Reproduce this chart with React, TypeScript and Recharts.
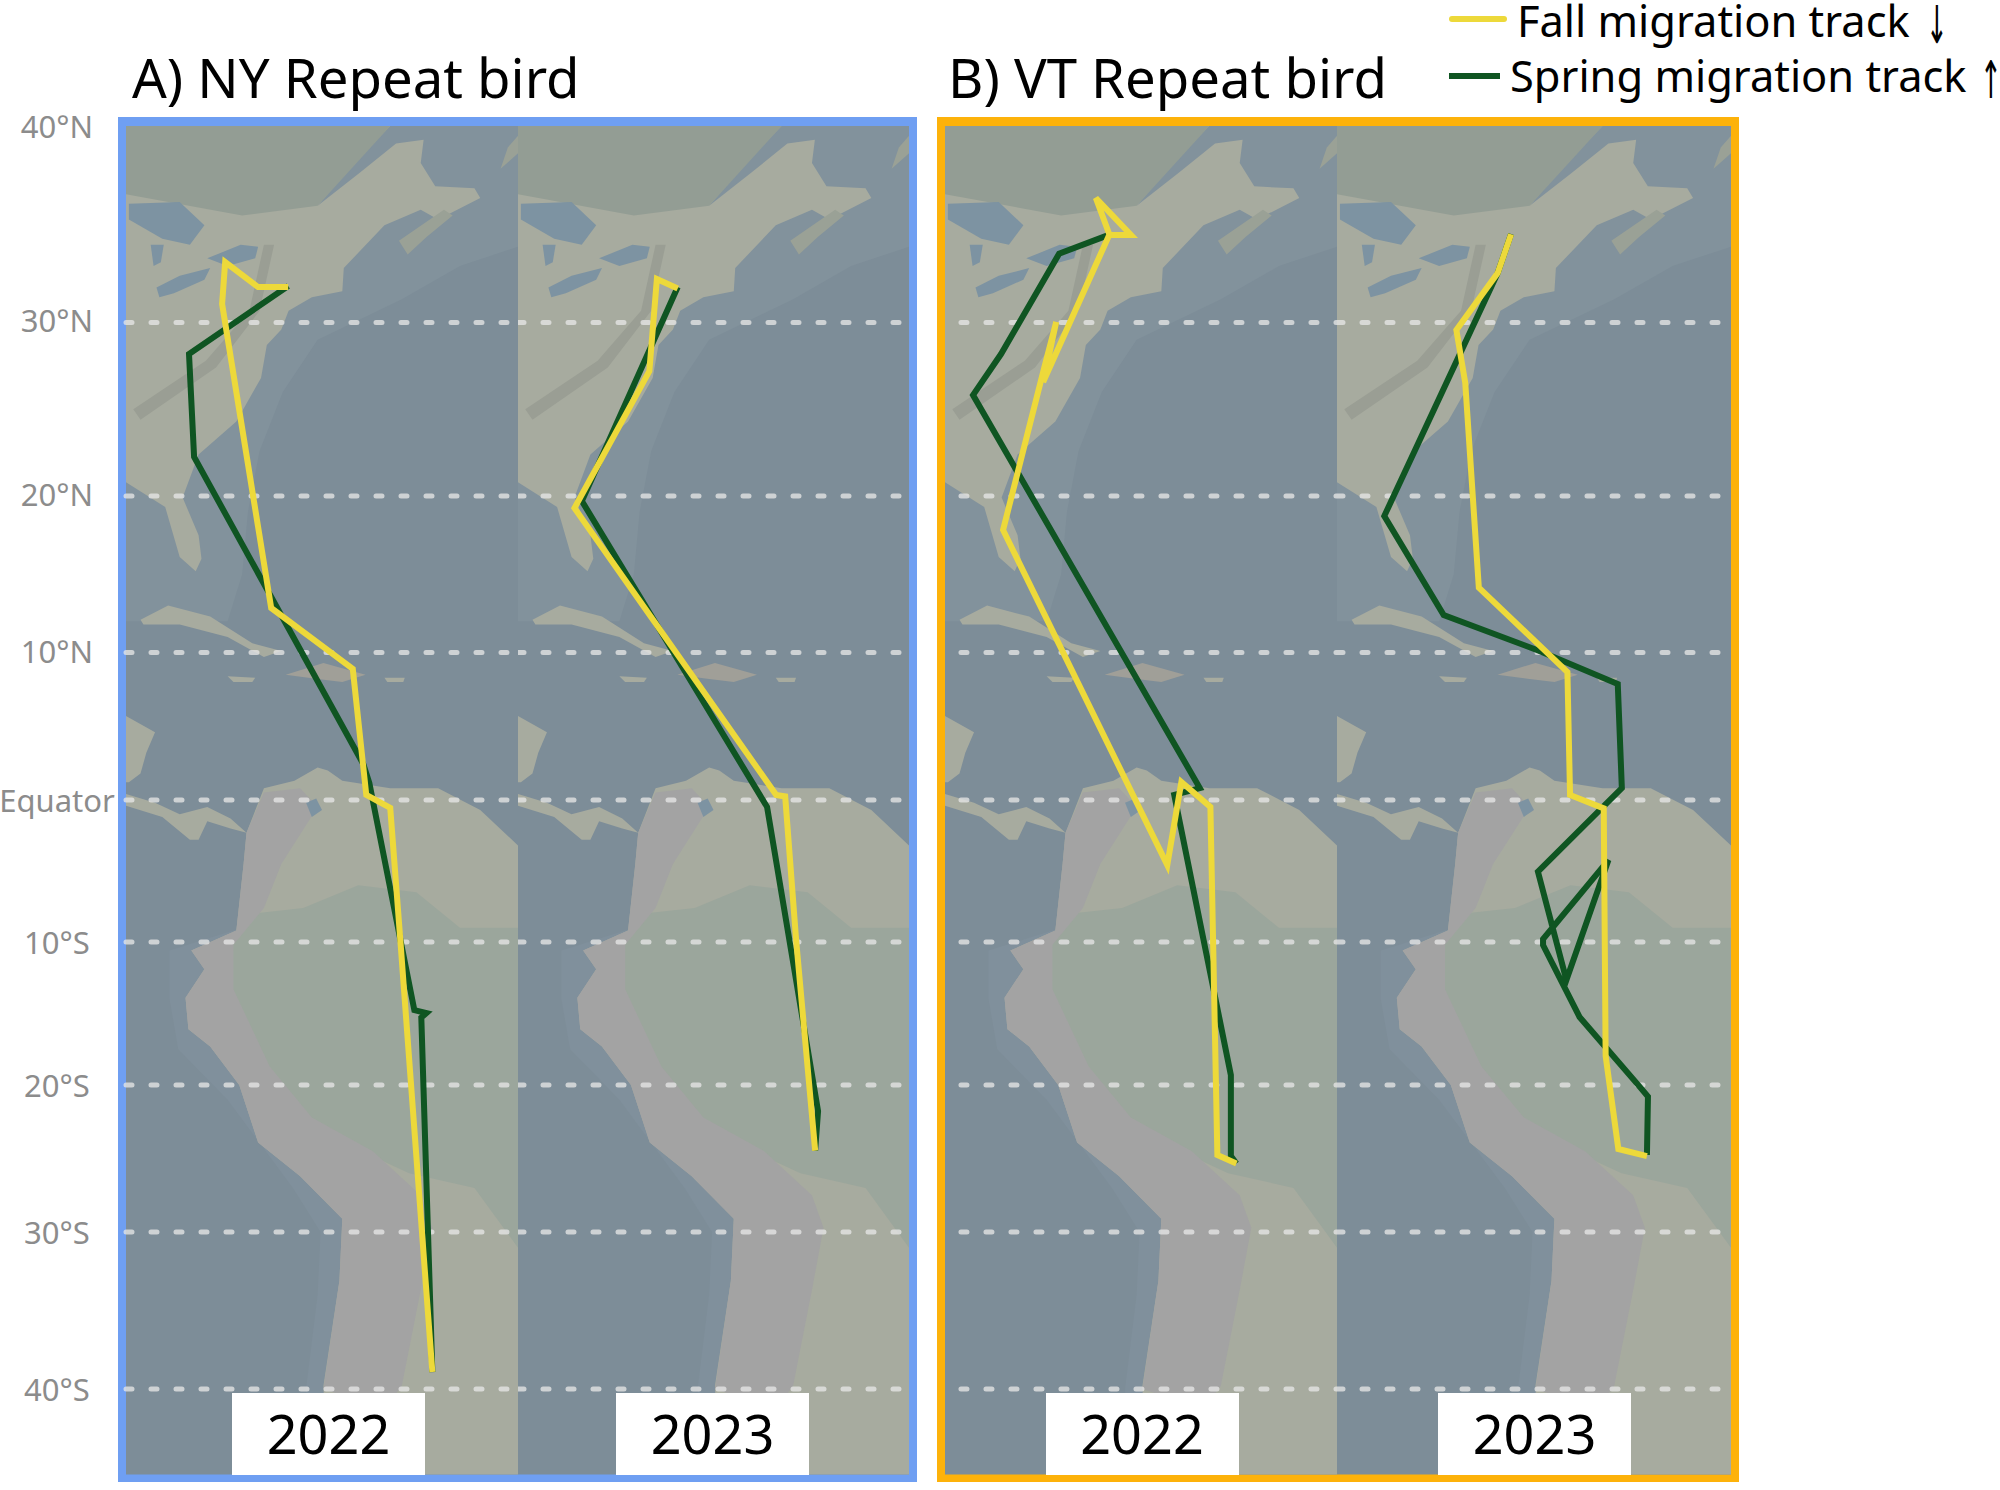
import React from 'react';
import { ScatterChart, Scatter, XAxis, YAxis } from 'recharts';

type Pair = [number, number];

const FONT = '"Noto Sans", sans-serif';

// tick labels, all in degrees latitude
const latTicks = [40, 30, 20, 10, 0, -10, -20, -30, -40];
const latLabels = ['40°N', '30°N', '20°N', '10°N', 'Equator', '10°S', '20°S', '30°S', '40°S'];
const gridLats = [30, 20, 10, 0, -10, -20, -30, -40];

// the map projection is not linear in latitude, this is the share of map height at each latitude
const projLat = [-45.4, -40, -30, -20, -10, 0, 10, 20, 30, 40, 40.1];
const projShare = [0, 0.0634, 0.1798, 0.2888, 0.3949, 0.5002, 0.6095, 0.7256, 0.8543, 0.9985, 1];

const lonRange: Pair = [-86, -59];
const latRange: Pair = [-45.4, 40.1];

// tracks as [lon, lat]
const nyFall2022: Pair[] = [[-74.83, 31.82], [-76.9, 31.82], [-79.17, 33.11], [-79.38, 30.95], [-76.0, 12.85], [-70.38, 8.89], [-69.45, 0.34], [-67.8, -0.56], [-67.1, -9.93], [-64.9, -38.92]];
const nySpring2022: Pair[] = [[-64.9, -38.92], [-65.66, -15.28], [-65.31, -14.97], [-66.14, -14.76], [-69.24, 1.15], [-69.66, 2.44], [-81.31, 22.25], [-81.66, 28.18], [-74.83, 31.88]];
const nyFall2023: Pair[] = [[-74.97, 31.75], [-76.41, 32.24], [-76.93, 27.2], [-82.1, 19.23], [-68.17, 0.34], [-67.55, 0.24], [-66.79, -9.93], [-65.48, -24.46]];
const nySpring2023: Pair[] = [[-65.48, -24.46], [-65.28, -21.77], [-68.8, -0.49], [-81.59, 19.68], [-74.97, 31.82]];
const vtFall2022: Pair[] = [[-74.69, 34.55], [-75.61, 36.4], [-73.19, 34.5], [-74.69, 34.5], [-79.24, 26.57], [-78.34, 30.03], [-79.17, 27.38], [-82.0, 17.83], [-70.69, -4.58], [-69.72, 1.22], [-67.72, -0.49], [-67.24, -24.76], [-65.93, -25.34]];
const vtSpring2022: Pair[] = [[-65.93, -25.34], [-66.31, -24.83], [-66.31, -19.3], [-70.21, 0.34], [-68.45, 0.81], [-84.07, 25.82], [-82.14, 28.18], [-78.14, 33.54], [-74.62, 34.53]];
const vtFall2023: Pair[] = [[-74.07, 34.54], [-74.99, 32.54], [-77.82, 29.57], [-77.21, 26.51], [-76.28, 14.15], [-70.21, 8.68], [-70.03, 0.34], [-67.72, -0.59], [-67.59, -17.97], [-66.72, -24.35], [-64.76, -24.83]];
const vtSpring2023: Pair[] = [[-64.76, -24.76], [-64.69, -20.78], [-65.38, -19.97], [-69.38, -15.24], [-71.88, -10.21], [-71.88, -9.79], [-67.4, -4.23], [-70.28, -12.66], [-72.23, -5.05], [-66.48, 0.81], [-66.76, 7.87], [-72.17, 10.12], [-78.69, 12.4], [-82.76, 18.72], [-74.99, 32.54], [-74.07, 34.55]];

// base map shapes
const oceanArea: Pair[] = [[-86, 40.1], [-59, 40.1], [-59, -45.4], [-86, -45.4]];
const atlanticShelf: Pair[] = [[-59, 40.1], [-59, 33.9], [-63, 32.9], [-67, 31.2], [-72.8, 29], [-75.2, 26], [-76.8, 22.6], [-77.6, 19], [-78, 15], [-79, 12], [-86, 12], [-86, 40.1]];
const pacificShelf: Pair[] = [[-78, -9], [-83, -10.6], [-83, -14], [-82.4, -17.5], [-79, -21], [-74.5, -27], [-72.6, -30], [-72.8, -34], [-73.6, -40], [-73.4, -45.4], [-70, -45.4], [-70, -9]];
const northAmerica: Pair[] = [[-86, 40.1], [-67.8, 40.1], [-70.3, 38.2], [-72.8, 36], [-69.9, 37.7], [-67.4, 39.2], [-65.5, 39.4], [-65.7, 38.2], [-64.7, 37], [-62, 36.9], [-61.6, 36.4], [-64.5, 35.3], [-65.7, 35.8], [-68.2, 35], [-71, 32.8], [-71.1, 31.6], [-73.2, 31.3], [-74.8, 30.6], [-75.3, 29.6], [-76.3, 28.7], [-76.7, 26.8], [-78.4, 24.3], [-81, 22.4], [-82.1, 19.9], [-81, 17.5], [-80.8, 16], [-81.2, 15.2], [-82.3, 16.1], [-83.3, 19.3], [-86, 20.8]];
const canadaForest: Pair[] = [[-86, 40.1], [-67.8, 40.1], [-72.8, 36], [-78, 35.5], [-86, 36.6]];
const appalachians: Pair[] = [[-85.5, 25], [-80.5, 27.8], [-77.5, 30.6], [-76.5, 34], [-75.8, 34], [-76.8, 30.6], [-79.8, 27.4], [-85, 24.4]];
const novaScotia: Pair[] = [[-67.2, 34.2], [-64.1, 35.8], [-63.5, 35.5], [-65.3, 34.4], [-66.6, 33.5]];
const newfoundland: Pair[] = [[-59, 38.7], [-60.2, 37.9], [-59.7, 39], [-59, 39.6]];
const lakeHuron: Pair[] = [[-85.8, 36.1], [-82.3, 36.2], [-80.6, 35], [-81.6, 34], [-83.5, 34.3], [-85.8, 35.3]];
const lakeMichigan: Pair[] = [[-84.3, 34], [-83.4, 34], [-83.6, 33.1], [-84.1, 32.9]];
const lakeOntario: Pair[] = [[-80.4, 33.3], [-78.1, 34], [-76.9, 33.9], [-77.1, 33.3], [-79, 32.9]];
const lakeErie: Pair[] = [[-83.9, 31.8], [-82.3, 32.4], [-80.2, 32.8], [-80.6, 32.2], [-82.7, 31.5], [-83.7, 31.3]];
const cuba: Pair[] = [[-85, 12.1], [-83.1, 13], [-80.2, 12.3], [-77.3, 10.6], [-75.3, 10.1], [-76.5, 9.7], [-79, 11], [-82.3, 11.8], [-84.8, 11.8]];
const hispaniola: Pair[] = [[-75, 8.5], [-72.4, 9.3], [-69.5, 8.5], [-71.1, 8], [-72.8, 8.2]];
const jamaica: Pair[] = [[-79, 8.4], [-77.1, 8.3], [-77.3, 8], [-78.6, 8]];
const puertoRico: Pair[] = [[-68.2, 8.3], [-66.8, 8.3], [-66.9, 8], [-68, 8]];
const yucatan: Pair[] = [[-86, 5.7], [-84, 4.6], [-84.6, 3.2], [-85, 1.8], [-85.8, 1.2], [-86, 1.2]];
const centralAmerica: Pair[] = [[-86, 0.4], [-84, -0.2], [-82.3, -1], [-80.4, -0.5], [-78.8, -1.3], [-77.7, -2.3], [-78.8, -2], [-80.4, -1.5], [-81, -2.8], [-81.6, -2.8], [-83.5, -1.2], [-86, -0.4]];
const southAmerica: Pair[] = [[-77.7, -2.3], [-76.5, 0.8], [-74.4, 1.3], [-72.8, 2.2], [-72.1, 2], [-71.1, 1.3], [-67.8, 0.8], [-64.5, 0.8], [-61.6, -0.7], [-59, -3.2], [-59, -45.4], [-72.2, -45.4], [-72.4, -39.8], [-71.3, -33.1], [-71.1, -29.1], [-74, -26.2], [-76.9, -23.9], [-78.2, -20], [-80.2, -17.3], [-81.7, -16.1], [-81.9, -13.9], [-80.6, -11.9], [-81.5, -10.6], [-78.4, -9.2], [-77.9, -4.5]];
const amazon: Pair[] = [[-73.8, -7.6], [-70, -6], [-66, -6.5], [-63, -9], [-59, -9], [-59, -31], [-62, -27], [-66.5, -26], [-70, -24.4], [-74.2, -21.8], [-77, -18.3], [-79.4, -13], [-79.4, -10.3], [-77.3, -8]];
const andes: Pair[] = [[-77.9, -4.5], [-77.7, -2.3], [-76.5, 0.5], [-74, 0.8], [-72.8, -0.5], [-75.3, -4.5], [-76.5, -7.6], [-78.6, -10.2], [-78.6, -13.3], [-76.1, -18.7], [-73.2, -22.2], [-69, -24.5], [-65.7, -27.5], [-64.9, -29.7], [-65.7, -33.7], [-67, -39.8], [-68.2, -41.3], [-72.4, -40], [-71.3, -33.1], [-71.1, -29.1], [-74, -26.2], [-76.9, -23.9], [-78.2, -20], [-80.2, -17.3], [-81.7, -16.1], [-81.9, -13.9], [-80.6, -11.9], [-81.5, -10.6], [-78.4, -9.2]];
const maracaibo: Pair[] = [[-73.6, -0.2], [-72.9, 0.1], [-72.5, -0.7], [-73.2, -1.2]];

const OCEAN = '#7d8d98';
const SHELF = '#82929c';
const LAND = '#a7ab9f';
const WATER = '#7d93a2';
const SPRING = '#0f5522';
const FALL = '#edd93a';

const mapLayers: { name: string; shape: Pair[]; fill: string }[] = [
  { name: 'ocean', shape: oceanArea, fill: OCEAN },
  { name: 'atlanticShelf', shape: atlanticShelf, fill: SHELF },
  { name: 'pacificShelf', shape: pacificShelf, fill: '#80909c' },
  { name: 'northAmerica', shape: northAmerica, fill: LAND },
  { name: 'canadaForest', shape: canadaForest, fill: '#939d94' },
  { name: 'appalachians', shape: appalachians, fill: '#9a9e94' },
  { name: 'novaScotia', shape: novaScotia, fill: '#9aa196' },
  { name: 'newfoundland', shape: newfoundland, fill: '#9aa196' },
  { name: 'lakeHuron', shape: lakeHuron, fill: WATER },
  { name: 'lakeMichigan', shape: lakeMichigan, fill: WATER },
  { name: 'lakeOntario', shape: lakeOntario, fill: WATER },
  { name: 'lakeErie', shape: lakeErie, fill: WATER },
  { name: 'cuba', shape: cuba, fill: LAND },
  { name: 'hispaniola', shape: hispaniola, fill: '#a09f98' },
  { name: 'jamaica', shape: jamaica, fill: LAND },
  { name: 'puertoRico', shape: puertoRico, fill: LAND },
  { name: 'yucatan', shape: yucatan, fill: LAND },
  { name: 'centralAmerica', shape: centralAmerica, fill: LAND },
  { name: 'southAmerica', shape: southAmerica, fill: LAND },
  { name: 'amazon', shape: amazon, fill: '#9ba69c' },
  { name: 'andes', shape: andes, fill: '#a3a3a3' },
  { name: 'maracaibo', shape: maracaibo, fill: WATER },
];

const toPoints = (pairs: Pair[]) => pairs.map(([lon, lat]) => ({ lon, lat }));

// custom latitude scale, same interface as a d3 scale
function latScale() {
  let dom = [latRange[0], latRange[1]];
  let rng = [1, 0];
  const s: any = (v: number) => {
    let i = 0;
    while (i < projLat.length - 2 && v > projLat[i + 1]) i++;
    const t = (v - projLat[i]) / (projLat[i + 1] - projLat[i]);
    const share = projShare[i] + t * (projShare[i + 1] - projShare[i]);
    return rng[0] + (rng[1] - rng[0]) * share;
  };
  s.domain = (d?: number[]) => {
    if (d) { dom = d; return s; }
    return dom;
  };
  s.range = (r?: number[]) => {
    if (r) { rng = r; return s; }
    return rng;
  };
  s.ticks = () => latTicks;
  s.copy = () => latScale().domain(dom).range(rng);
  return s;
}

const NoDot = () => <g />;

const LatTick = ({ y, payload }: any) => {
  const label = latLabels[latTicks.indexOf(payload.value)];
  return (
    <text x={57} y={payload.value > 0 ? y - 2 : y} textAnchor="middle" dominantBaseline="central" fontFamily={FONT} fontSize={31} fill="#8c8c8c">
      {label}
    </text>
  );
};

const TOP_PAD = 30;
const MAP_TOP = 126;
const MAP_H = 1348.5;

type PanelProps = {
  left: number;
  mapWidth: number;
  fall: Pair[];
  spring: Pair[];
  year: string;
  boxLeft: number;
  gridFrom: number;
  gridTo: number;
  axis?: boolean;
};

const TrackPanel = ({ left, mapWidth, fall, spring, year, boxLeft, gridFrom, gridTo, axis }: PanelProps) => {
  const axisW = axis ? left : 0;
  return (
    <>
      <div style={{ position: 'absolute', left: left - axisW, top: MAP_TOP - TOP_PAD }}>
        <ScatterChart
          width={mapWidth + axisW}
          height={MAP_H + TOP_PAD}
          margin={{ top: TOP_PAD, right: 0, bottom: 0, left: 0 }}
        >
          <XAxis type="number" dataKey="lon" domain={lonRange} hide />
          <YAxis
            type="number"
            dataKey="lat"
            domain={latRange}
            scale={latScale()}
            ticks={latTicks}
            interval={0}
            width={axisW}
            hide={!axis}
            axisLine={false}
            tickLine={false}
            tick={<LatTick />}
          />
          {mapLayers.map((layer) => (
            <Scatter
              key={layer.name}
              data={toPoints(layer.shape)}
              shape={NoDot}
              line={{ fill: layer.fill, stroke: 'none' }}
              lineJointType="linear"
              isAnimationActive={false}
            />
          ))}
          {gridLats.map((lat) => (
            <Scatter
              key={lat}
              data={[{ lon: gridFrom, lat }, { lon: gridTo, lat }]}
              shape={NoDot}
              line={{
                stroke: '#e6e6e6',
                strokeOpacity: 0.78,
                strokeWidth: 5,
                strokeLinecap: 'round',
                strokeDasharray: '6 19',
              }}
              lineJointType="linear"
              isAnimationActive={false}
            />
          ))}
          <Scatter
            name="Spring migration track"
            data={toPoints(spring)}
            shape={NoDot}
            line={{ stroke: SPRING, strokeWidth: 6 }}
            lineJointType="linear"
            isAnimationActive={false}
          />
          <Scatter
            name="Fall migration track"
            data={toPoints(fall)}
            shape={NoDot}
            line={{ stroke: FALL, strokeWidth: 6 }}
            lineJointType="linear"
            isAnimationActive={false}
          />
        </ScatterChart>
      </div>
      <div
        style={{
          position: 'absolute',
          left: boxLeft,
          top: 1393,
          width: 193,
          height: 81.5,
          background: '#fff',
          textAlign: 'center',
          fontFamily: FONT,
          fontSize: 54,
          lineHeight: '81.5px',
          color: '#000',
        }}
      >
        {year}
      </div>
    </>
  );
};

const Frame = ({ left, width, color }: { left: number; width: number; color: string }) => (
  <div
    style={{
      position: 'absolute',
      left,
      top: 117,
      width,
      height: 1365,
      boxSizing: 'border-box',
      border: `8px solid ${color}`,
      borderTopWidth: 9,
    }}
  />
);

const textStyle: React.CSSProperties = {
  position: 'absolute',
  fontFamily: FONT,
  color: '#000',
  whiteSpace: 'nowrap',
};

const arrowStyle: React.CSSProperties = {
  ...textStyle,
  fontFamily: '"DejaVu Sans", sans-serif',
  fontSize: 52,
  lineHeight: '44px',
  width: 20,
  textAlign: 'center',
  transform: 'scaleX(0.5)',
};

export default function App() {
  return (
    <div style={{ position: 'absolute', left: 0, top: 0, width: 2000, height: 1490, overflow: 'hidden', background: '#fff' }}>
      <Frame left={118} width={799} color="#6f9ff2" />
      <Frame left={937} width={802} color="#fdb20a" />

      <TrackPanel left={126} mapWidth={392} axis fall={nyFall2022} spring={nySpring2022} year="2022" boxLeft={232} gridFrom={-86} gridTo={-59} />
      <TrackPanel left={518} mapWidth={391} fall={nyFall2023} spring={nySpring2023} year="2023" boxLeft={616} gridFrom={-86} gridTo={-59.5} />
      <TrackPanel left={945} mapWidth={392} fall={vtFall2022} spring={vtSpring2022} year="2022" boxLeft={1045.5} gridFrom={-84.9} gridTo={-59} />
      <TrackPanel left={1337} mapWidth={394} fall={vtFall2023} spring={vtSpring2023} year="2023" boxLeft={1438} gridFrom={-86} gridTo={-59.6} />

      <div style={{ ...textStyle, left: 132, top: 39, fontSize: 54.5, lineHeight: '76px' }}>A) NY Repeat bird</div>
      <div style={{ ...textStyle, left: 948, top: 39, fontSize: 54.5, lineHeight: '76px' }}>B) VT Repeat bird</div>

      <div style={{ position: 'absolute', left: 1449, top: 16, width: 58, height: 6, borderRadius: 3, background: FALL }} />
      <div style={{ position: 'absolute', left: 1449, top: 73, width: 51, height: 6, background: SPRING }} />
      <div style={{ ...textStyle, left: 1517, top: 0, fontSize: 43.4, lineHeight: '42px' }}>Fall migration track</div>
      <div style={{ ...arrowStyle, left: 1921, top: 3 }}>↓</div>
      <div style={{ ...textStyle, left: 1510, top: 55, fontSize: 43.4, lineHeight: '42px' }}>Spring migration track</div>
      <div style={{ ...arrowStyle, left: 1975, top: 58 }}>↑</div>
    </div>
  );
}
